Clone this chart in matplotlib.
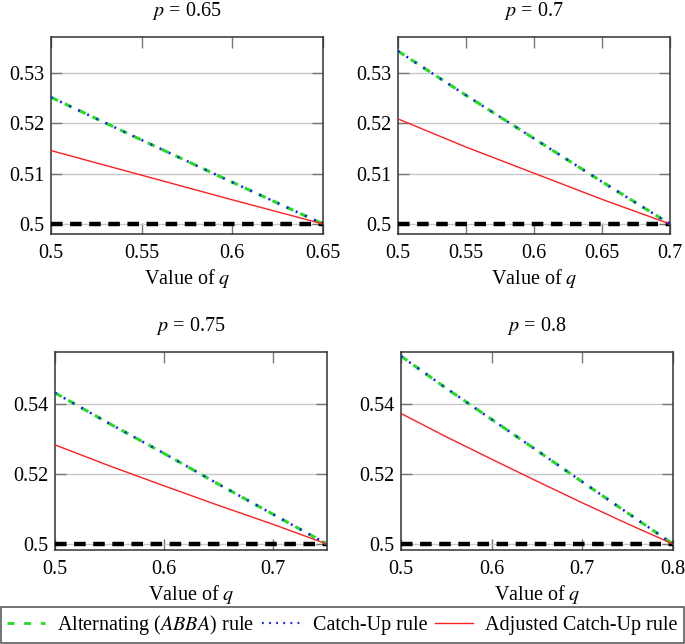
import matplotlib
matplotlib.use('Agg')
import matplotlib.pyplot as plt
from matplotlib.lines import Line2D

plt.rcParams['font.family'] = ['Liberation Serif', 'DejaVu Serif']
plt.rcParams['mathtext.fontset'] = 'stix'

# values
p_values = [0.65, 0.7, 0.75, 0.8]

q_065 = [0.5, 0.55, 0.6, 0.65]
abba_065 = [0.5252, 0.5167, 0.5083, 0.5]
catch_065 = [0.5252, 0.5167, 0.5083, 0.5]
adj_065 = [0.5146, 0.5097, 0.5048, 0.5]

q_07 = [0.5, 0.55, 0.6, 0.65, 0.7]
abba_07 = [0.5344, 0.5256, 0.5170, 0.5084, 0.5]
catch_07 = [0.5344, 0.5256, 0.5170, 0.5084, 0.5]
adj_07 = [0.5209, 0.5153, 0.5101, 0.5049, 0.5]

q_075 = [0.5, 0.55, 0.6, 0.65, 0.7, 0.75]
abba_075 = [0.5433, 0.5345, 0.5260, 0.5172, 0.5086, 0.5]
catch_075 = [0.5433, 0.5345, 0.5260, 0.5172, 0.5086, 0.5]
adj_075 = [0.5284, 0.5224, 0.5167, 0.5111, 0.5057, 0.5]

q_08 = [0.5, 0.55, 0.6, 0.65, 0.7, 0.75, 0.8]
abba_08 = [0.5538, 0.5446, 0.5357, 0.5268, 0.5178, 0.5089, 0.5]
catch_08 = [0.5538, 0.5446, 0.5357, 0.5268, 0.5178, 0.5089, 0.5]
adj_08 = [0.5374, 0.5307, 0.5243, 0.5180, 0.5118, 0.5058, 0.5]

panels = [
    (q_065, abba_065, catch_065, adj_065, [0.5, 0.55, 0.6, 0.65], ['0.5', '0.55', '0.6', '0.65'],
     [0.5, 0.51, 0.52, 0.53], ['0.5', '0.51', '0.52', '0.53'], (0.498, 0.5372)),
    (q_07, abba_07, catch_07, adj_07, [0.5, 0.55, 0.6, 0.65, 0.7], ['0.5', '0.55', '0.6', '0.65', '0.7'],
     [0.5, 0.51, 0.52, 0.53], ['0.5', '0.51', '0.52', '0.53'], (0.498, 0.5372)),
    (q_075, abba_075, catch_075, adj_075, [0.5, 0.6, 0.7], ['0.5', '0.6', '0.7'],
     [0.5, 0.52, 0.54], ['0.5', '0.52', '0.54'], (0.4983, 0.555)),
    (q_08, abba_08, catch_08, adj_08, [0.5, 0.6, 0.7, 0.8], ['0.5', '0.6', '0.7', '0.8'],
     [0.5, 0.52, 0.54], ['0.5', '0.52', '0.54'], (0.4983, 0.555)),
]

W, H = 685, 644
fig = plt.figure(figsize=(W / 100, H / 100), dpi=100)

# axes boxes in pixels: left, top, right, bottom
boxes = [(51, 37, 323, 234), (398, 37, 670, 234), (55, 352, 327, 550), (401, 352, 673, 550)]

green = '#22dd22'
blue = '#1a1aff'
red = '#ff2020'

for i, (q, abba, catch, adj, xt, xtl, yt, ytl, ylim) in enumerate(panels):
    l, t, r, b = boxes[i]
    ax = fig.add_axes([l / W, 1 - b / H, (r - l) / W, (b - t) / H])
    p = p_values[i]
    ax.axhline(0.5, color='black', lw=3.2, dashes=(2.6, 1.7), zorder=4)
    ax.plot(q, abba, color=green, lw=2.2, dashes=(2.5, 2.5), zorder=5)
    ax.plot(q, catch, color=blue, lw=1.8, dashes=(0.8, 3.2), zorder=6)
    ax.plot(q, adj, color=red, lw=1.0, zorder=5)
    ax.set_xlim(0.5, p)
    ax.set_ylim(*ylim)
    ax.set_xticks(xt)
    ax.set_xticklabels(xtl)
    ax.set_yticks(yt)
    ax.set_yticklabels(ytl)
    ax.grid(axis='y', color='#c8c8c8', lw=1.0)
    ax.set_axisbelow(True)
    ax.tick_params(direction='in', length=8, width=1, color='#777777',
                   top=True, right=True, labelsize=14.5)
    ax.tick_params(axis='x', pad=7)
    ax.tick_params(axis='y', pad=5)
    for s in ax.spines.values():
        s.set_color('#333333')
        s.set_linewidth(1.1)
    ax.set_title(r'$p$ = ' + str(p), fontsize=14.5, pad=15)
    ax.set_xlabel(r'Value of $q$', fontsize=14.5, labelpad=3)

handles = [
    Line2D([], [], color=green, lw=2.0, dashes=(2.5, 3.5)),
    Line2D([], [], color=blue, lw=1.6, dashes=(0.8, 2.4)),
    Line2D([], [], color=red, lw=1.0),
]
labels = [r'Alternating ($ABBA$) rule', 'Catch-Up rule', 'Adjusted Catch-Up rule']
leg = fig.legend(handles, labels, loc='lower left', bbox_to_anchor=(0.0015, 0.0015, 0.997, 0.05),
                 mode='expand', ncol=3, fontsize=14.5, frameon=True, fancybox=False,
                 edgecolor='#222222', handlelength=1.9, columnspacing=0.8,
                 borderpad=0.3, handletextpad=0.6, borderaxespad=0)
leg.get_frame().set_linewidth(1.1)

fig.savefig('out.png', dpi=100)
